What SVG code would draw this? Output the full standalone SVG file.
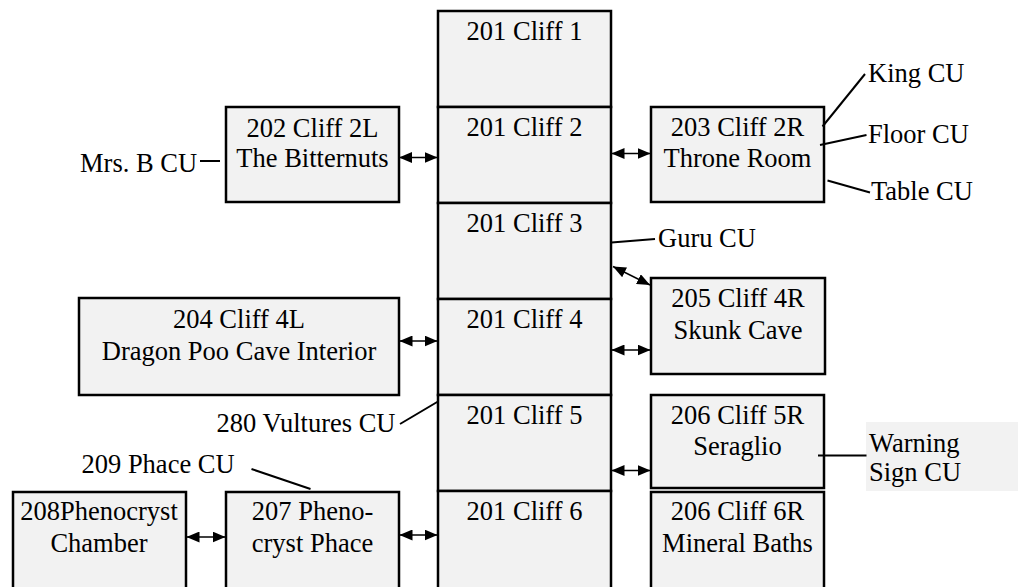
<svg xmlns="http://www.w3.org/2000/svg" width="1018" height="587" viewBox="0 0 1018 587">
<defs>
<style>
.box{fill:#f2f2f2;stroke:#000;stroke-width:2.5}
.t{font-family:"Liberation Serif","Times New Roman",serif;font-size:26.5px;fill:#000}
.c{text-anchor:middle}
.arr{stroke:#000;stroke-width:1.5;fill:none;marker-start:url(#ah);marker-end:url(#ah)}
.ln{stroke:#000;stroke-width:2;fill:none}
</style>
<marker id="ah" viewBox="0 0 13 11" refX="13" refY="5.5" markerWidth="13" markerHeight="11" markerUnits="userSpaceOnUse" orient="auto-start-reverse">
<path d="M0,0 L13,5.5 L0,11 z" fill="#000"/>
</marker>
</defs>
<rect width="1018" height="587" fill="#fff"/>

<g id="cliff1"><rect class="box" x="438" y="11" width="173" height="96"/><text class="t c" x="524.5" y="40">201 Cliff 1</text></g>
<g id="cliff2"><rect class="box" x="438" y="107" width="173" height="96"/><text class="t c" x="524.5" y="136">201 Cliff 2</text></g>
<g id="cliff3"><rect class="box" x="438" y="203" width="173" height="96"/><text class="t c" x="524.5" y="232">201 Cliff 3</text></g>
<g id="cliff4"><rect class="box" x="438" y="299" width="173" height="96"/><text class="t c" x="524.5" y="328">201 Cliff 4</text></g>
<g id="cliff5"><rect class="box" x="438" y="395" width="173" height="96"/><text class="t c" x="524.5" y="424">201 Cliff 5</text></g>
<g id="cliff6"><rect class="box" x="438" y="491" width="173" height="110"/><text class="t c" x="524.5" y="520">201 Cliff 6</text></g>

<g id="n202"><rect class="box" x="226" y="107" width="173" height="95"/><text class="t c" x="312.5" y="136.5">202 Cliff 2L</text><text class="t c" x="312.5" y="167">The Bitternuts</text></g>
<g id="n203"><rect class="box" x="651" y="107" width="173" height="95"/><text class="t c" x="737.5" y="136">203 Cliff 2R</text><text class="t c" x="737.5" y="167">Throne Room</text></g>
<g id="n204"><rect class="box" x="79" y="298" width="320" height="97"/><text class="t c" x="239" y="327.5">204 Cliff 4L</text><text class="t c" x="239" y="360">Dragon Poo Cave Interior</text></g>
<g id="n205"><rect class="box" x="651" y="278" width="174" height="96"/><text class="t c" x="738" y="306.5">205 Cliff 4R</text><text class="t c" x="738" y="338.5">Skunk Cave</text></g>
<g id="n206a"><rect class="box" x="651" y="395" width="173" height="93"/><text class="t c" x="737.5" y="423.5">206 Cliff 5R</text><text class="t c" x="737.5" y="455">Seraglio</text></g>
<g id="n206b"><rect class="box" x="651" y="492" width="173" height="110"/><text class="t c" x="737.5" y="520">206 Cliff 6R</text><text class="t c" x="737.5" y="551.5">Mineral Baths</text></g>
<g id="n208"><rect class="box" x="13" y="492" width="173" height="110"/><text class="t c" x="99" y="520">208Phenocryst</text><text class="t c" x="99" y="551.5">Chamber</text></g>
<g id="n207"><rect class="box" x="226" y="492" width="173" height="110"/><text class="t c" x="312.5" y="520">207 Pheno-</text><text class="t c" x="312.5" y="551.5">cryst Phace</text></g>

<g id="labels">
<text class="t" x="80" y="171.5">Mrs. B CU</text>
<text class="t" x="868" y="81.5">King CU</text>
<text class="t" x="868" y="142.5">Floor CU</text>
<text class="t" x="871" y="200">Table CU</text>
<text class="t" x="658" y="246.5">Guru CU</text>
<text class="t" x="216.5" y="431.5">280 Vultures CU</text>
<g id="warning"><rect x="866" y="422" width="152" height="69" fill="#f2f2f2"/><text class="t" x="869" y="451.5">Warning</text><text class="t" x="869" y="480.5">Sign CU</text></g>
<text class="t" x="81.5" y="473">209 Phace CU</text>
</g>

<g id="connectors">
<line class="arr" x1="399" y1="157.5" x2="437.5" y2="157.5"/>
<line class="arr" x1="611.5" y1="153.5" x2="650.5" y2="153.5"/>
<line class="arr" x1="613" y1="266.5" x2="650" y2="285"/>
<line class="arr" x1="399.5" y1="341" x2="437.5" y2="341"/>
<line class="arr" x1="611.5" y1="350" x2="650.5" y2="350"/>
<line class="arr" x1="611.5" y1="470.5" x2="650.5" y2="470.5"/>
<line class="arr" x1="186.5" y1="537" x2="225.5" y2="537"/>
<line class="arr" x1="399.5" y1="535" x2="437.5" y2="535"/>
<line class="ln" x1="200" y1="161" x2="220" y2="161"/>
<line class="ln" x1="822.5" y1="126.5" x2="865" y2="74"/>
<line class="ln" x1="820" y1="145" x2="866.5" y2="135"/>
<line class="ln" x1="827.5" y1="180.5" x2="870" y2="192.5"/>
<line class="ln" x1="611.5" y1="242.5" x2="655" y2="239"/>
<line class="ln" x1="400" y1="424" x2="438" y2="401.5"/>
<line class="ln" x1="818" y1="455.5" x2="866.5" y2="455.5"/>
<line class="ln" x1="251.5" y1="469" x2="310.5" y2="489"/>
</g>
</svg>
